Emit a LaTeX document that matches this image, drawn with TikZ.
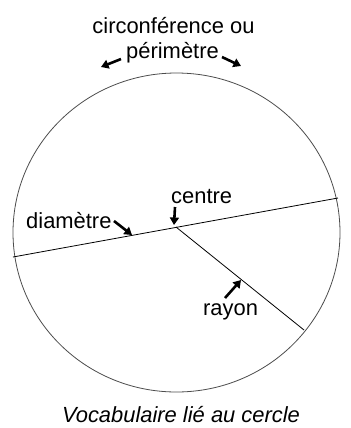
\documentclass[tikz,border=0pt]{standalone}
\usepackage{fontspec}
\setmainfont{Liberation Sans}
\usetikzlibrary{arrows.meta}
\tikzset{
  lbl/.style={inner sep=0pt, font=\fontsize{22}{26}\selectfont},
  pointer/.style={line width=2.6bp, -{Triangle[length=7.5bp,width=9bp]}},
  thinline/.style={line width=0.8bp, black},
  rim/.style={line width=0.8bp, black!70}
}
\begin{document}
\begin{tikzpicture}[x=1bp,y=-1bp]
\useasboundingbox (0,0) rectangle (351,428);
% circle
\draw[rim] (176.5,232.5) ellipse [x radius=163.5, y radius=159.5];
% named points
\coordinate (dL) at (13,257);
\coordinate (dR) at (338,198);
\coordinate (ctr) at (176,227);
\coordinate (rE) at (304,330);
\draw[thinline] (dL) -- (dR);
\draw[thinline] (ctr) -- (rE);
% labels
\node[lbl, anchor=base] (circ) at (173.5,33) {circonférence ou};
\node[lbl, anchor=base] (peri) at (172.5,58) {périmètre};
\node[lbl, anchor=base west] (diam) at (26,228) {diamètre};
\node[lbl, anchor=base west] (cent) at (171,203) {centre};
\node[lbl, anchor=base west] (ray) at (203,315) {rayon};
\node[lbl, anchor=base, font=\fontsize{22}{26}\selectfont\itshape] (cap) at (181,422) {Vocabulaire lié au cercle};
% pointer arrows
\coordinate (a1s) at (121,59); \coordinate (a1e) at (101,67);
\coordinate (a2s) at (222,57); \coordinate (a2e) at (241,66);
\coordinate (a3s) at (114,221); \coordinate (a3e) at (132,235);
\coordinate (a4s) at (175,207); \coordinate (a4e) at (174,225);
\coordinate (a5s) at (225,298); \coordinate (a5e) at (241,280);
\draw[pointer] (a1s) -- (a1e);
\draw[pointer] (a2s) -- (a2e);
\draw[pointer] (a3s) -- (a3e);
\draw[pointer] (a4s) -- (a4e);
\draw[pointer] (a5s) -- (a5e);
\end{tikzpicture}
\end{document}
